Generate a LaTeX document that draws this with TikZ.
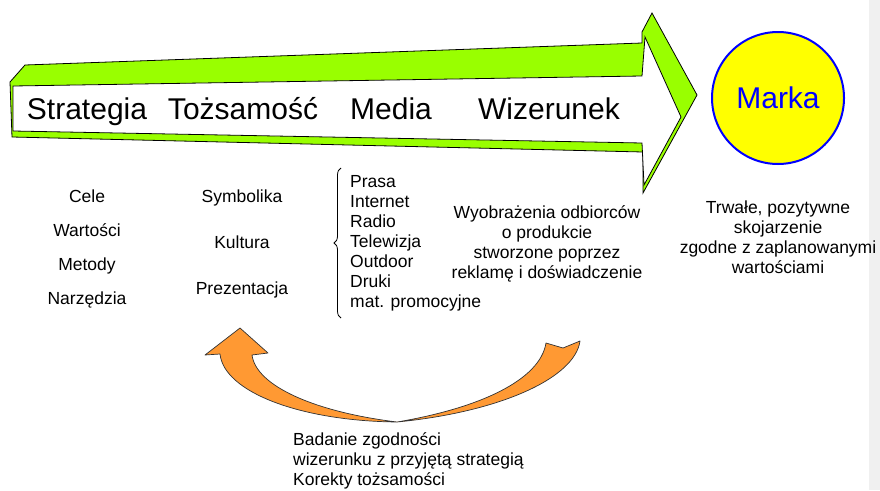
\documentclass[tikz,border=0pt]{standalone}
\usepackage{fontspec}
\setmainfont{Liberation Sans}
\usetikzlibrary{positioning, decorations.pathreplacing}
\definecolor{lime}{HTML}{99FF00}
\definecolor{sun}{HTML}{FFFF00}
\definecolor{tangerine}{HTML}{FF9933}
\definecolor{paneGray}{HTML}{F0F0F0}
\tikzset{
  stage/.style={font=\fontsize{30}{36}\selectfont, text height=22pt, text depth=6pt, inner sep=0pt},
  item/.style={font=\fontsize{17.5}{20}\selectfont, text height=13pt, text depth=4pt, inner sep=0pt},
  note/.style={font=\fontsize{17.5}{20}\selectfont, inner sep=0pt},
}

\begin{document}
\begin{tikzpicture}
	[x=1pt, y=-1pt, on grid, node distance=34pt]
   \useasboundingbox (0,0) rectangle (880,490);
   \fill[paneGray] (869,0) rectangle (880,490);
   \draw[fill=lime, line width=0.8pt] (10,82) -- (25,65) -- (642,43) -- (642,32) -- (652,13) -- (697,95)
        -- (643,193) -- (643,152) -- (12,137) -- cycle;
   \draw[fill=white, line width=0.8pt] (13,86) -- (642,76) -- (645,37) -- (681,117) -- (644,185)
        -- (642,143) -- (13,131) -- cycle;
   \draw[fill=tangerine, draw=black!80, line width=0.7pt, line join=round]
        (546,343) -- (563,348) -- (580,341) .. controls (575,378) and (500,412) .. (397,422)
        .. controls (300,421) and (224,392) .. (220,354) -- (205,355) -- (240,328)
        -- (268,353) -- (252,355) .. controls (256,386) and (315,412) .. (397,422)
        .. controls (480,408) and (540,380) .. (546,343) -- cycle;

   \node[stage] (strategia) at (87,111) {Strategia};
   \node[stage] (tozsamosc) [right=156pt of strategia] {Tożsamość};
   \node[stage] (media) [right=148pt of tozsamosc] {Media};
   \node[stage] (wizerunek) [right=158pt of media] {Wizerunek};
   \node[circle, draw=blue, fill=sun, line width=2pt, minimum size=132pt, inner sep=0pt,
         text=blue, font=\fontsize{30}{36}\selectfont] (marka) at (778,98) {Marka};

   \node[item] (cele) at (87,198) {Cele};
   \node[item] (wartosci) [below=of cele] {Wartości};
   \node[item] (metody) [below=of wartosci] {Metody};
   \node[item] (narzedzia) [below=of metody] {Narzędzia};

   \node[item] (symbolika) at (242,198) {Symbolika};
   \node[item] (kultura) [below=46pt of symbolika] {Kultura};
   \node[item] (prezentacja) [below=46pt of kultura] {Prezentacja};

   \node[note, align=left, anchor=north west] (kanaly) at (350,175)
        {Prasa\\Internet\\Radio\\Telewizja\\Outdoor\\Druki\\mat. promocyjne};
   \coordinate (klamraTop) at (341,168);
   \coordinate (klamraBot) at (341,318);
   \draw[decorate, decoration={brace, amplitude=7pt}, line width=0.8pt] (klamraBot) -- (klamraTop);

   \node[note, align=center] (obraz) at (547,244)
        {Wyobrażenia odbiorców\\o produkcie\\stworzone poprzez\\reklamę i doświadczenie};
   \node[note, align=center] (skojarzenia) [below=139pt of marka]
        {Trwałe, pozytywne\\skojarzenie\\zgodne z zaplanowanymi\\wartościami};
   \node[note, align=left, anchor=north west] (badanie) at (293,432)
        {Badanie zgodności\\wizerunku z przyjętą strategią\\Korekty tożsamości};
\end{tikzpicture}
\end{document}
